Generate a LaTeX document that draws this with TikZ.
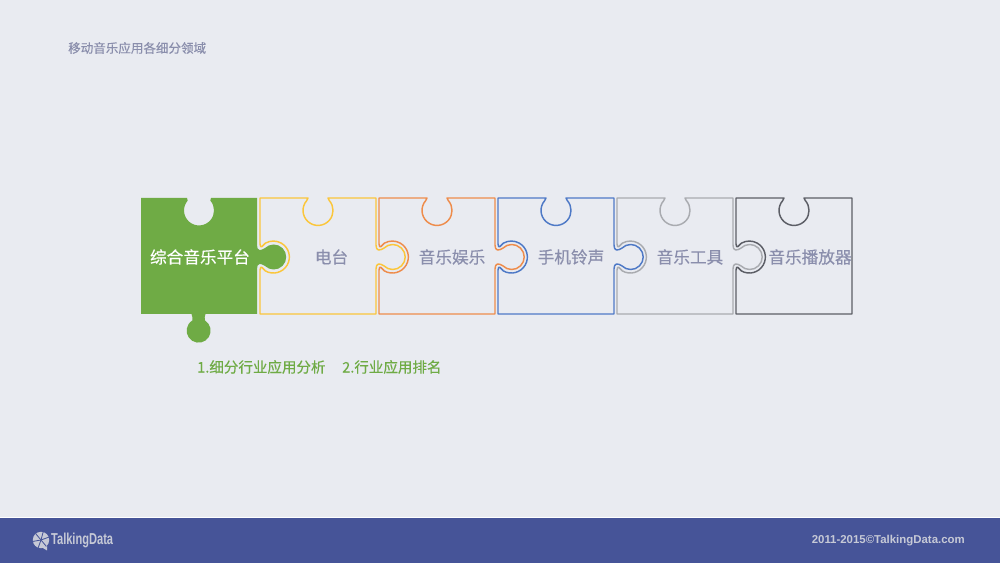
\documentclass[tikz,border=0pt]{standalone}
\usepackage{fontspec}
\setmainfont[FakeBold=0.35]{Noto Sans CJK SC}
\newfontfamily\footfont{Liberation Sans}
\usetikzlibrary{positioning}
\definecolor{pagebg}{HTML}{E9EBF1}
\definecolor{footbg}{HTML}{465498}
\definecolor{footfg}{HTML}{C6C9D6}
\definecolor{textgray}{HTML}{8A8EAC}
\definecolor{leafgreen}{HTML}{6FAB45}
\definecolor{pieceyellow}{HTML}{FBC63B}
\definecolor{pieceorange}{HTML}{EE8C4C}
\definecolor{pieceblue}{HTML}{4E79C6}
\definecolor{piecegray}{HTML}{A9ABB0}
\definecolor{piecedark}{HTML}{5C5E66}
% outline parts of one puzzle piece, origin at its lower left corner
\def\topnotch{-- (48,116) -- (46.7,113.4) arc (139:401:15) -- (68,116) -- (116,116)}
\def\topnotchwide{-- (46,116) -- (46.7,113.4) arc (139:401:15) -- (70,116) -- (116,116)}
\def\righttab{-- (116,69) .. controls (116,63) and (119.5,63) .. (123.86,65.84) arc (135:-135:12.5) .. controls (119.5,51) and (116,51) .. (116,45)}
\def\leftnotch{-- (0,44) .. controls (0.5,50) and (3,45) .. (5.35,43.1) arc (240:480:16) .. controls (3,69) and (0.5,64) .. (0,70)}
\begin{document}
\begin{tikzpicture}[
    x=0.03cm, y=0.03cm,
    piece_line/.style={line width=1.25pt, line join=round},
    piece_label/.style={font=\fontsize{14.2}{16}\selectfont, text=textgray, inner sep=0pt},
    sub_label/.style={font=\fontsize{12.4}{14}\selectfont, text=leafgreen, inner sep=0pt, anchor=west}
]
    \useasboundingbox (0,0) rectangle (1000,563);
    \fill[pagebg] (0,0) rectangle (1000,563);

    % footer
    \fill[white] (0,44) rectangle (1000,46);
    \fill[footbg] (0,0) rectangle (1000,44.5);
    \fill[footfg] (41,23) circle (8.2);
    \fill[footfg] (42,15.5) -- (47,12.5) -- (47,17) -- cycle;
    \foreach \a in {20,75,130,190,250,310} {
        \draw[footbg, line width=0.7pt] (41,23) -- ++(\a:8.4);
    }
    \node[font=\footfont\bfseries\fontsize{13.5}{15}\selectfont, text=footfg, anchor=west, inner sep=0pt, xscale=0.7] (logo) at (51,23) {TalkingData};
    \node[font=\footfont\bfseries\fontsize{9.75}{11}\selectfont, text=footfg, anchor=east, inner sep=0pt] (copyright) at (965,22) {2011-2015©TalkingData.com};

    % title
    \node[font=\fontsize{10.7}{12}\selectfont, text=textgray, anchor=west, inner sep=0pt] (title) at (68,515) {移动音乐应用各细分领域};

    % green piece
    \begin{scope}[shift={(141,249)}]
        \fill[leafgreen] (0,0) -- (0,116) \topnotchwide \righttab -- (116,0) -- (64.5,0)
            .. controls (63.5,-2) and (63.5,-4) .. (64,-6.5) arc (58:-238:12) .. controls (51.5,-4) and (51.5,-2) .. (50.5,0) -- cycle;
    \end{scope}

    % outlined pieces
    \foreach \x/\col in {260/pieceyellow, 379/pieceorange, 498/pieceblue, 617/piecegray} {
        \begin{scope}[shift={(\x,249)}]
            \draw[piece_line, draw=\col] (0,0) \leftnotch -- (0,116) \topnotch \righttab -- (116,0) -- cycle;
        \end{scope}
    }
    \begin{scope}[shift={(736,249)}]
        \draw[piece_line, draw=piecedark] (0,0) \leftnotch -- (0,116) \topnotch -- (116,0) -- cycle;
    \end{scope}

    % piece labels
    \node[piece_label, text=white] (platform) at (200,306) {综合音乐平台};
    \node[piece_label] (radio) at (331.5,306) {电台};
    \node[piece_label] (fun) at (452,306) {音乐娱乐};
    \node[piece_label] (ring) at (571,306) {手机铃声};
    \node[piece_label] (tool) at (690,306) {音乐工具};
    \node[piece_label] (player) at (810,306) {音乐播放器};

    % notes below the green piece
    \node[sub_label] (note1) at (197,196) {1.细分行业应用分析};
    \node[sub_label] (note2) at (342,196) {2.行业应用排名};
\end{tikzpicture}
\end{document}
